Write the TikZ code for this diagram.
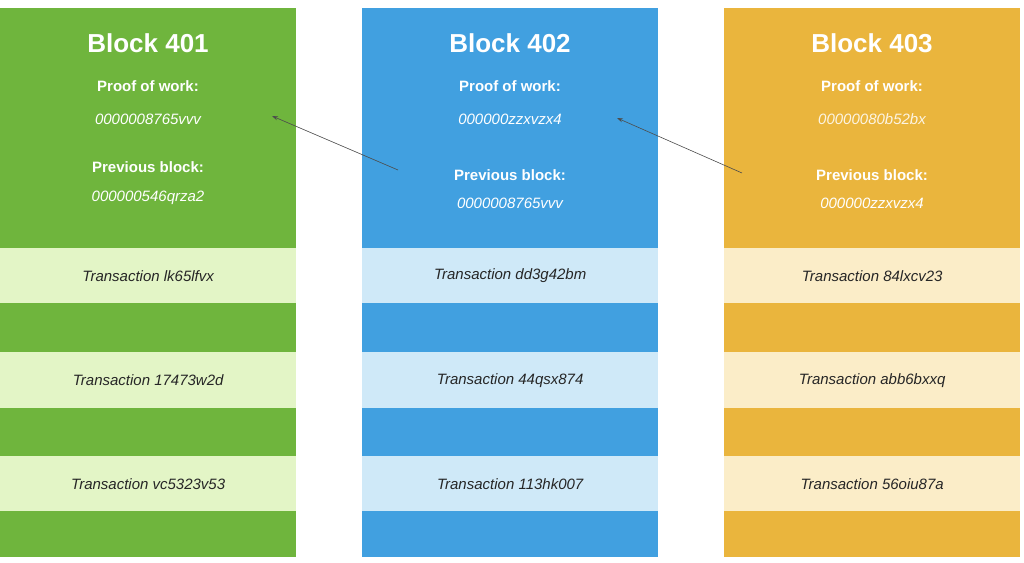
\documentclass[tikz,border=0pt]{standalone}
\usepackage{fontspec}
\setmainfont{Liberation Sans}
\usetikzlibrary{arrows.meta}
\definecolor{gD}{HTML}{6FB53D}\definecolor{gL}{HTML}{E3F5C6}
\definecolor{bD}{HTML}{41A0E0}\definecolor{bL}{HTML}{CFE9F8}
\definecolor{oD}{HTML}{EAB53D}\definecolor{oL}{HTML}{FBEDC8}
\begin{document}
\begin{tikzpicture}[x=1pt,y=-1pt,
 box/.style={draw=none,minimum width=296pt,inner sep=0pt,anchor=north west},
 title/.style={text=white,font=\bfseries\fontsize{26}{28}\selectfont},
 lab/.style={text=white,font=\bfseries\fontsize{15}{17}\selectfont},
 hash/.style={text=white,font=\itshape\fontsize{15}{17}\selectfont},
 tx/.style={text=black!85,font=\itshape\fontsize{15}{17}\selectfont},
 arr/.style={draw=black!70,line width=0.6pt,-{Stealth[length=6pt,width=4pt]}}]
\useasboundingbox (0,0) rectangle (1024,562);
\foreach \x/\d/\l/\n in {0/gD/gL/a,362/bD/bL/b,724/oD/oL/c}{
 \node[box,fill=\d,minimum height=240pt] (h\n) at (\x,8) {};
 \node[box,fill=\l,minimum height=55pt] (t1\n) at (\x,248) {};
 \node[box,fill=\d,minimum height=49pt] (d1\n) at (\x,303) {};
 \node[box,fill=\l,minimum height=56pt] (t2\n) at (\x,352) {};
 \node[box,fill=\d,minimum height=48pt] (d2\n) at (\x,408) {};
 \node[box,fill=\l,minimum height=55pt] (t3\n) at (\x,456) {};
 \node[box,fill=\d,minimum height=46pt] (d3\n) at (\x,511) {};
}
\node[title] (ta) at (148,43) {Block 401};
\node[lab] (pa) at (148,86) {Proof of work:};
\node[hash] (wa) at (148,119) {0000008765vvv};
\node[lab] (qa) at (148,167) {Previous block:};
\node[hash] (ra) at (148,198) {000000546qrza2};
\node[title] (tb) at (510,43) {Block 402};
\node[lab] (pb) at (510,86) {Proof of work:};
\node[hash] (wb) at (510,119) {000000zzxvzx4};
\node[lab] (qb) at (510,175) {Previous block:};
\node[hash] (rb) at (510,203) {0000008765vvv};
\node[title] (tc) at (872,43) {Block 403};
\node[lab] (pc) at (872,86) {Proof of work:};
\node[hash,text=white!85!oD] (wc) at (872,119) {00000080b52bx};
\node[lab] (qc) at (872,175) {Previous block:};
\node[hash] (rc) at (872,203) {000000zzxvzx4};
\node[tx] at (t1a) {Transaction lk65lfvx};
\node[tx] at (t2a) {Transaction 17473w2d};
\node[tx] at (t3a) {Transaction vc5323v53};
\node[tx] at (t1b) {Transaction dd3g42bm};
\node[tx] at (t2b) {Transaction 44qsx874};
\node[tx] at (t3b) {Transaction 113hk007};
\node[tx] at (t1c) {Transaction 84lxcv23};
\node[tx] at (t2c) {Transaction abb6bxxq};
\node[tx] at (t3c) {Transaction 56oiu87a};
\coordinate (sa) at (398,170); \coordinate (ea) at (272,116);
\coordinate (sb) at (742,173); \coordinate (eb) at (617,118);
\draw[arr] (sa) -- (ea);
\draw[arr] (sb) -- (eb);
\end{tikzpicture}
\end{document}
